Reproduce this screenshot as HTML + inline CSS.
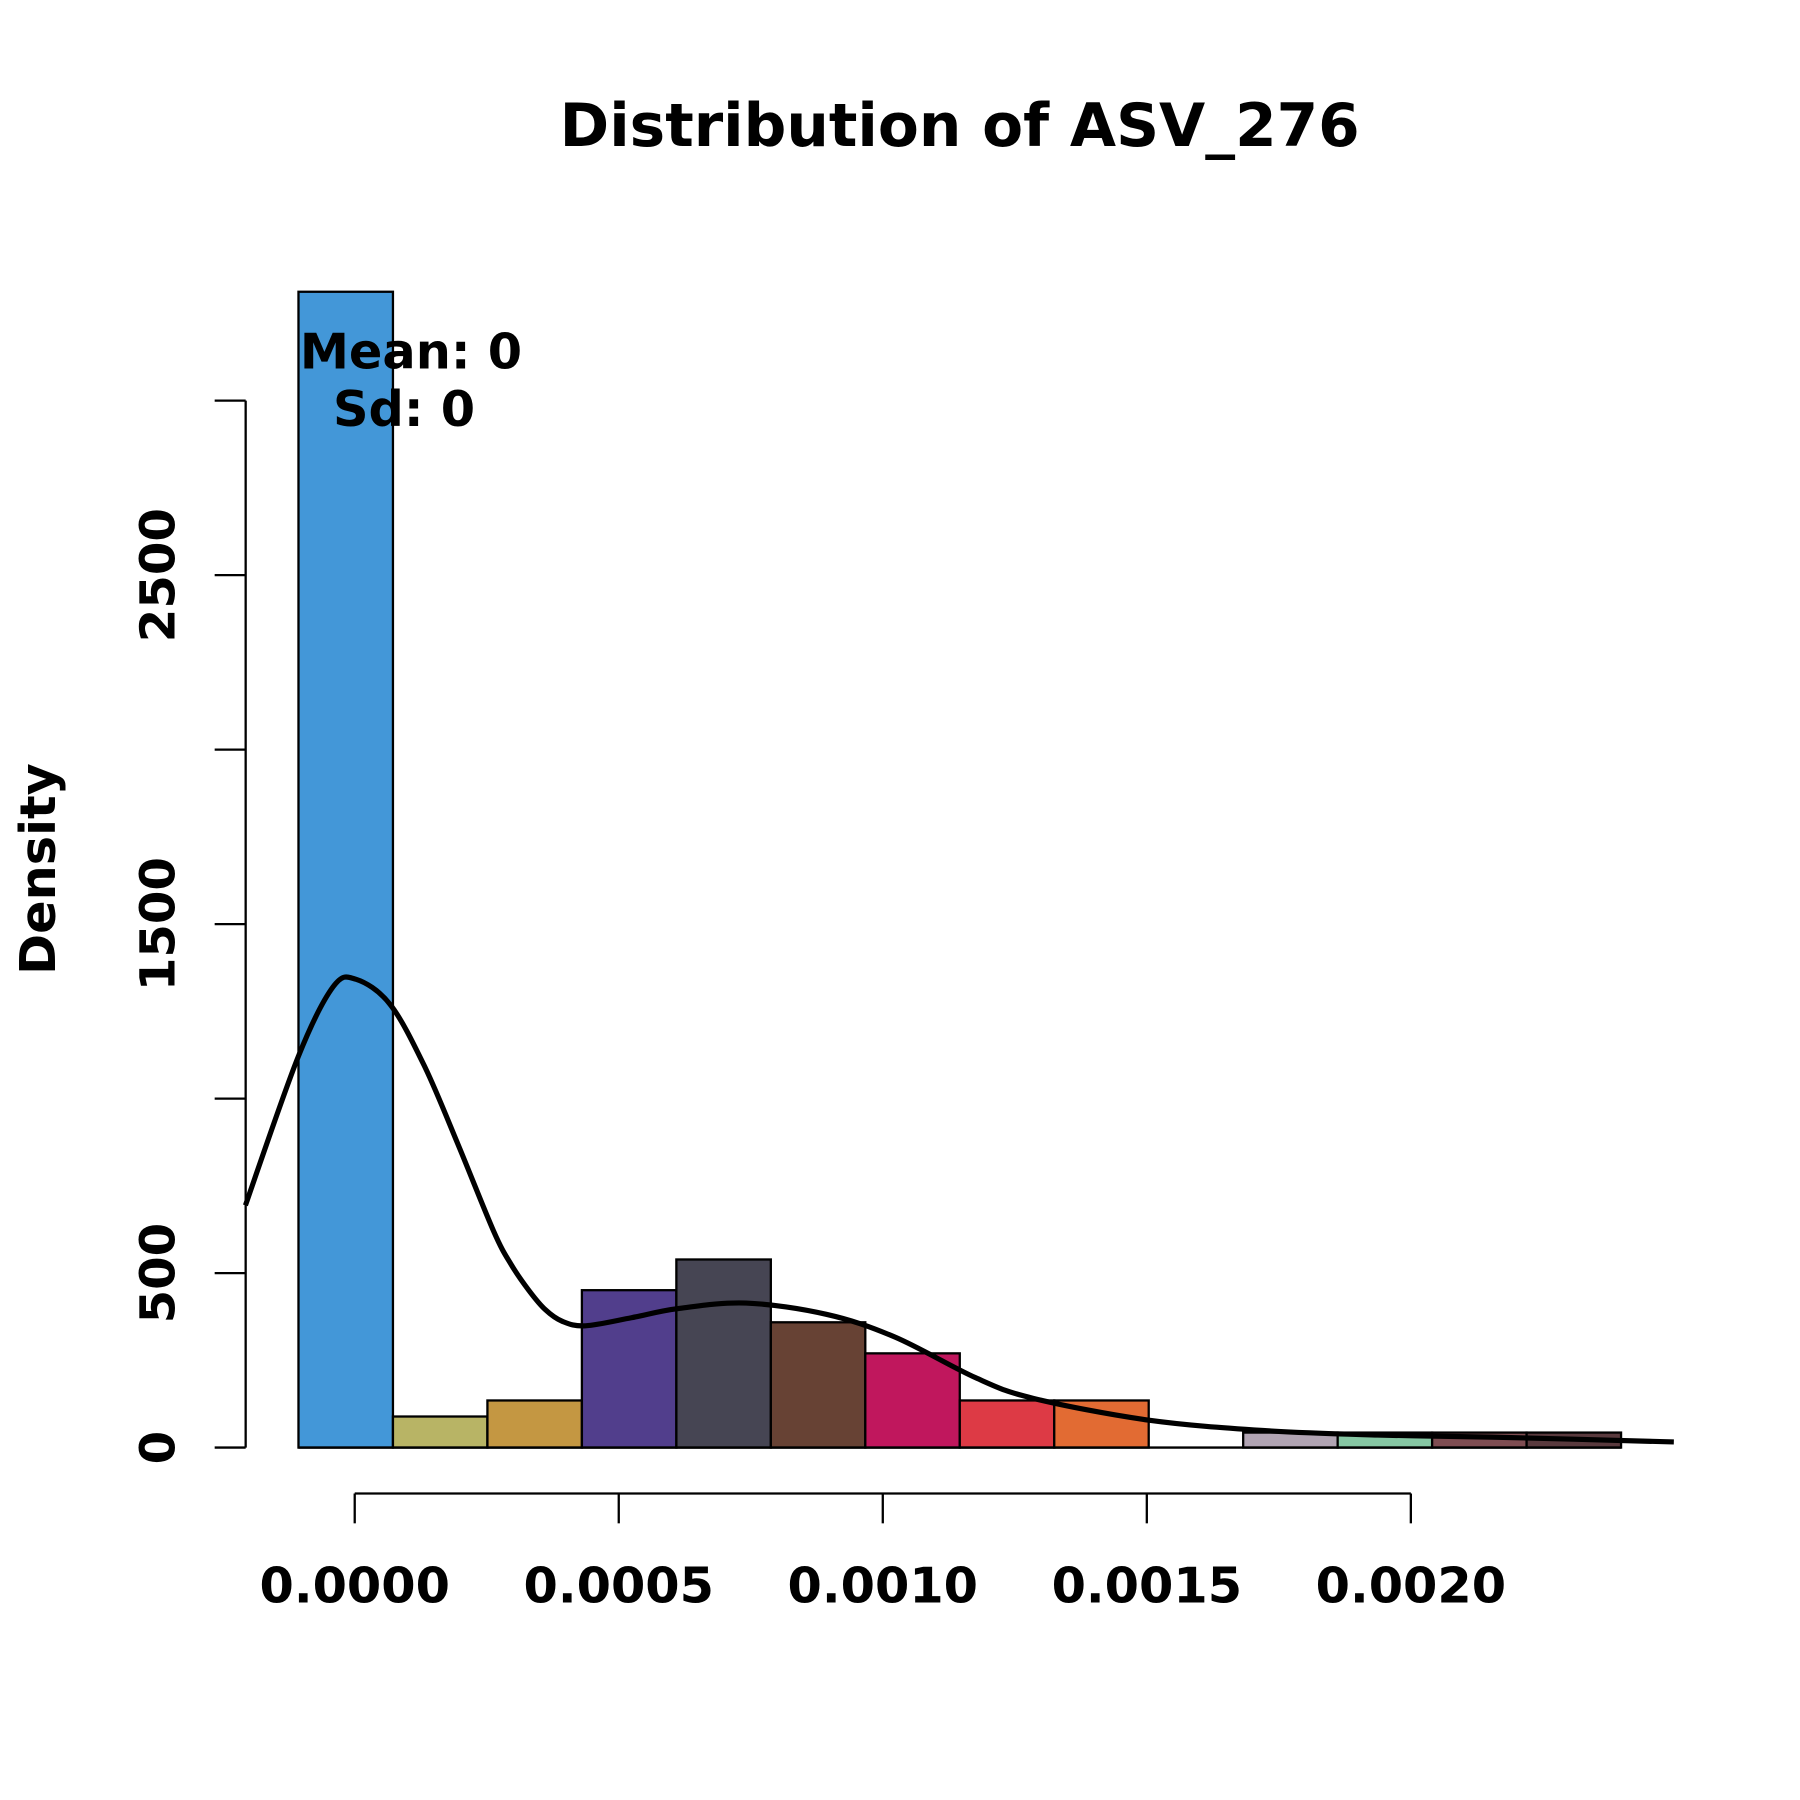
<!DOCTYPE html>
<html><head><meta charset="utf-8"><style>
html,body{margin:0;padding:0;background:#fff}
svg{display:block}
text{font-family:"DejaVu Sans","Liberation Sans",sans-serif;font-weight:bold;fill:#000}
</style></head><body>
<svg id="chart" width="1800" height="1800" viewBox="0 0 1568 1568" xmlns="http://www.w3.org/2000/svg">
<rect width="1568" height="1568" fill="#fff"/>
<text x="836" y="127" font-size="52" text-anchor="middle">Distribution of ASV_276</text>
<g id="bars"></g>
<path id="density" fill="none" stroke="#000" stroke-width="4.5"/>
<g id="axes"></g>
<text font-size="43" text-anchor="middle" transform="translate(48,757) rotate(-90)">Density</text>
<text x="358" y="321" font-size="43" text-anchor="middle">Mean: 0</text>
<text x="352" y="371" font-size="43" text-anchor="middle">Sd: 0</text>
</svg>
<script>
const binStart = -0.0001065;
const binWidth = 0.0001789;
const binHeights = [3312, 89, 135, 451, 539, 359, 270, 135, 135, 0, 43, 43, 43, 43];
const binColors = ["#4397d8","#b8b465","#c49742","#513e8c","#464553","#674234","#c0175d","#dd3a45","#e26b33","#ffffff","#b1a4b3","#86c7a3","#7f4d52","#5a3a3e"];
const densX = [-0.000207,-0.000107,-0.000041,0.000002,0.000067,0.000133,0.000198,0.000263,0.000296,0.000330,0.000361,0.000393,0.000437,0.000524,0.000611,0.000741,0.000893,0.001024,0.001176,0.001285,0.001502,0.001720,0.001937,0.002154,0.002498];
const densVals = [694, 1120, 1320, 1342, 1270, 1090, 860, 620, 525, 450, 395, 362, 349, 372, 398, 414, 382, 316, 200, 141, 79, 49, 36, 30, 16];
const xTicks = [0, 0.0005, 0.001, 0.0015, 0.002];
const xTickLabels = ["0.0000","0.0005","0.0010","0.0015","0.0020"];
const yTicks = [0, 500, 1000, 1500, 2000, 2500, 3000];
const yTickLabels = ["0","500","","1500","","2500",""];
const NS="http://www.w3.org/2000/svg";
const xs = v => 309 + v*460000;
const ys = v => 1261 - v*0.304;
const bars=document.getElementById('bars');
binHeights.forEach((h,i)=>{
  if(h<=0) return;
  const r=document.createElementNS(NS,'rect');
  const x0=xs(binStart+i*binWidth), x1=xs(binStart+(i+1)*binWidth);
  r.setAttribute('x',x0);r.setAttribute('width',x1-x0);
  r.setAttribute('y',ys(h));r.setAttribute('height',ys(0)-ys(h));
  r.setAttribute('fill',binColors[i]);r.setAttribute('stroke','#000');r.setAttribute('stroke-width','2');
  
  
  bars.appendChild(r);
});
const bl=document.createElementNS(NS,'line');
bl.setAttribute('x1',xs(binStart));bl.setAttribute('x2',xs(binStart+binHeights.length*binWidth));
bl.setAttribute('y1',ys(0));bl.setAttribute('y2',ys(0));bl.setAttribute('stroke','#000');bl.setAttribute('stroke-width','2');


bars.appendChild(bl);
const pts = densX.map((v,i)=>[xs(v), ys(densVals[i])]);
let d='M'+pts[0][0].toFixed(1)+','+pts[0][1].toFixed(1);
for(let i=0;i<pts.length-1;i++){
  const p0=pts[Math.max(0,i-1)],p1=pts[i],p2=pts[i+1],p3=pts[Math.min(pts.length-1,i+2)];
  const c1=[p1[0]+(p2[0]-p0[0])/6,p1[1]+(p2[1]-p0[1])/6];
  const c2=[p2[0]-(p3[0]-p1[0])/6,p2[1]-(p3[1]-p1[1])/6];
  d+='C'+c1[0].toFixed(1)+','+c1[1].toFixed(1)+' '+c2[0].toFixed(1)+','+c2[1].toFixed(1)+' '+p2[0].toFixed(1)+','+p2[1].toFixed(1);
}
document.getElementById('density').setAttribute('d',d);
const ax=document.getElementById('axes');
function line(x1,y1,x2,y2,name){const l=document.createElementNS(NS,'line');l.setAttribute('x1',x1);l.setAttribute('y1',y1);l.setAttribute('x2',x2);l.setAttribute('y2',y2);l.setAttribute('stroke','#000');l.setAttribute('stroke-width','2');


ax.appendChild(l);}
line(214,ys(yTicks[0]),214,ys(yTicks[yTicks.length-1]),'y-axis-line');
yTicks.forEach((t,i)=>{line(187,ys(t),214,ys(t),'y-tick');
  if(yTickLabels[i]){const tx=document.createElementNS(NS,'text');tx.textContent=yTickLabels[i];tx.setAttribute('font-size','42');tx.setAttribute('text-anchor','middle');tx.setAttribute('transform','translate(152,'+ys(t)+') rotate(-90)');
  
  
  ax.appendChild(tx);}
});
line(xs(xTicks[0]),1301,xs(xTicks[xTicks.length-1]),1301,'x-axis-line');
xTicks.forEach((t,i)=>{line(xs(t),1301,xs(t),1327,'x-tick');
  const tx=document.createElementNS(NS,'text');tx.textContent=xTickLabels[i];tx.setAttribute('font-size','43');tx.setAttribute('text-anchor','middle');tx.setAttribute('x',xs(t));tx.setAttribute('y',1396);
  
  
  ax.appendChild(tx);
});
</script>
</body></html>
